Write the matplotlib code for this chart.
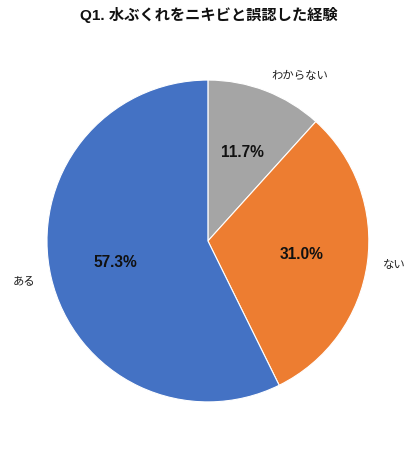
import matplotlib
matplotlib.use('Agg')
import matplotlib.pyplot as plt

labels = ['わからない', 'ない', 'ある']
values = [11.7, 31.0, 57.3]
colors = ['#A5A5A5', '#ED7D31', '#4472C4']

plt.rcParams['font.family'] = ['Noto Sans CJK JP', 'DejaVu Sans']

fig = plt.figure(figsize=(4.18, 4.5), dpi=100)
ax = fig.add_axes([0.1124, 0.1067, 0.770, 0.7156])
wedges, texts, autotexts = ax.pie(values, labels=labels, colors=colors,
                                  startangle=90, counterclock=False,
                                  autopct='%.1f%%', pctdistance=0.59,
                                  labeldistance=1.1,
                                  wedgeprops={'edgecolor': 'white', 'linewidth': 0.8},
                                  textprops={'fontsize': 8.2, 'color': '#222222'})
for t in autotexts:
    t.set_fontsize(11.2)
    t.set_fontweight('bold')
    t.set_fontfamily(['Liberation Sans', 'DejaVu Sans'])
    t.set_color('#111111')
ax.set_xlim(-1, 1)
ax.set_ylim(-1, 1)
ax.set_aspect('equal')

fig.text(0.5, 0.966, 'Q1. 水ぶくれをニキビと誤認した経験', ha='center', va='center',
         fontsize=11, fontweight='bold', color='#111111',
         family=['Liberation Sans', 'Noto Sans CJK JP'])

fig.savefig('out.png', dpi=100)
